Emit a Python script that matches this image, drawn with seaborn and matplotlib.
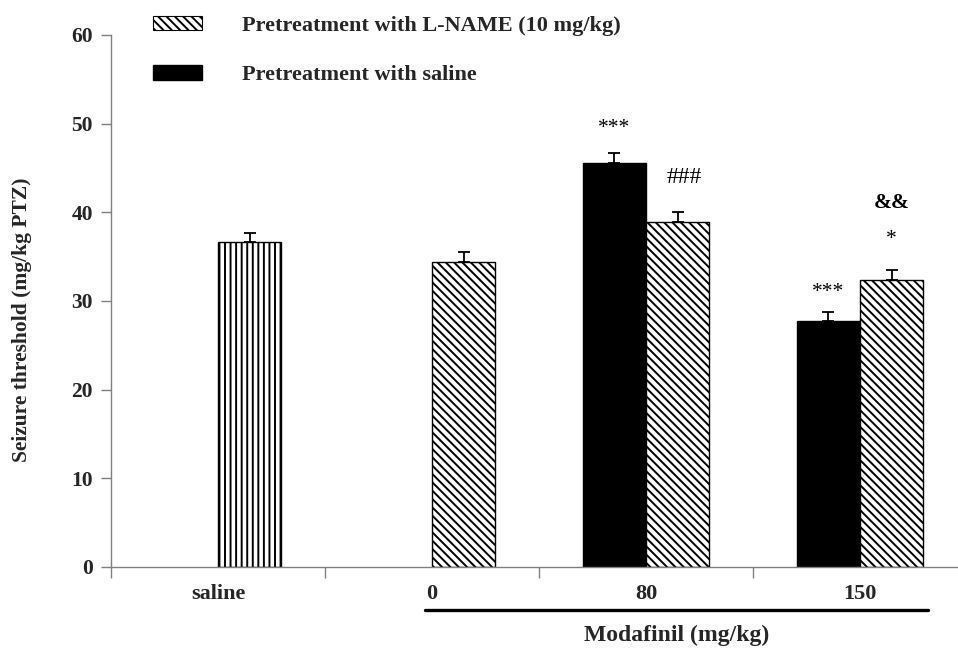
import matplotlib
matplotlib.use("Agg")
import matplotlib.pyplot as plt
import seaborn as sns
import pandas as pd
import numpy as np
from matplotlib.patches import Patch
from matplotlib.lines import Line2D

# ---- data ----
categories = ["saline", "0", "80", "150"]
bar_category = ["saline", "0", "80", "80", "150", "150"]
bar_group = ["L-NAME", "L-NAME", "Saline", "L-NAME", "Saline", "L-NAME"]
bar_value = [36.6, 34.4, 45.6, 38.9, 27.7, 32.4]
bar_sem = [1.1, 1.15, 1.1, 1.1, 1.1, 1.1]
hue_order = ["Saline", "L-NAME"]
legend_labels = ["Pretreatment with L-NAME (10 mg/kg)", "Pretreatment with saline"]
x_title = "Modafinil (mg/kg)"
y_title = "Seizure threshold (mg/kg PTZ)"
annotations = [("***", "80", "Saline", 49.4), ("###", "80", "L-NAME", 43.9),
               ("***", "150", "Saline", 31.0), ("*", "150", "L-NAME", 36.9),
               ("&&", "150", "L-NAME", 41.0)]

df = pd.DataFrame({"cat": bar_category, "group": bar_group, "value": bar_value, "sem": bar_sem})

sns.set_theme(style="white")
plt.rcParams["font.family"] = ["Liberation Serif", "DejaVu Serif"]
plt.rcParams["hatch.color"] = "black"
plt.rcParams["hatch.linewidth"] = 1.4

W, H = 958, 649
fig = plt.figure(figsize=(W / 100, H / 100), dpi=100)
ax_left, ax_right, ax_top, ax_bot = 111, 958, 35, 567
ax = fig.add_axes([ax_left / W, (H - ax_bot) / H, (ax_right - ax_left) / W, (ax_bot - ax_top) / H])

sns.barplot(data=df, x="cat", y="value", hue="group", order=categories, hue_order=hue_order,
            palette={"Saline": "black", "L-NAME": "white"}, width=0.59, gap=0,
            errorbar=None, edgecolor="black", linewidth=1.0, ax=ax, legend=False)

# hatches + error bars
for cont, grp in zip(ax.containers, hue_order):
    for bar in cont:
        if np.isnan(bar.get_height()) or bar.get_height() == 0:
            continue
        xc = bar.get_x() + bar.get_width() / 2
        cat = categories[int(round(xc))]
        if grp == "L-NAME":
            bar.set_hatch("|||" if cat == "saline" else "\\\\\\\\")
        row = df[(df["cat"] == cat) & (df["group"] == grp)].iloc[0]
        ax.errorbar([xc], [row["value"]], yerr=[[0], [row["sem"]]], fmt="none",
                    ecolor="black", elinewidth=1.3, capsize=4, capthick=1.3, zorder=3)

offs = {"Saline": -0.1475, "L-NAME": 0.1475}
sizes = {"***": 15.5, "###": 17, "*": 15.5, "&&": 15.5}
for txt, cat, grp, yv in annotations:
    xx = categories.index(cat) + offs[grp]
    if txt == "###":
        xx += 0.03
    ax.text(xx, yv, txt, ha="center", va="center", fontsize=sizes[txt],
            fontweight="bold" if txt == "&&" else "normal", color="black")

# axes styling
ax.set_ylim(0, 60)
ax.set_yticks(np.arange(0, 61, 10))
ax.set_xticks(range(len(categories)))
ax.set_xticklabels(categories, fontsize=16, fontweight="bold")
ax.set_xticks(np.arange(-0.5, 3.0, 1), minor=True)
ax.set_xlim(-0.5, 3.5 - 9 / 214)
ax.tick_params(axis="x", which="major", bottom=True, length=0, pad=12)
ax.tick_params(axis="x", which="minor", bottom=True, length=8, width=1, color="#808080", direction="out")
ax.tick_params(axis="y", left=True, length=7, width=1, color="#808080", direction="out", pad=6, labelsize=15.5)
for lab in ax.get_yticklabels():
    lab.set_fontweight("bold")
ax.set_xlabel("")
ax.set_ylabel(y_title, fontsize=15.5, fontweight="bold")
ax.yaxis.set_label_coords((32 - ax_left) / (ax_right - ax_left), (ax_bot - 320) / (ax_bot - ax_top))
for s in ["top", "right"]:
    ax.spines[s].set_visible(False)
for s in ["left", "bottom"]:
    ax.spines[s].set_color("#808080")
    ax.spines[s].set_linewidth(1)

# underline + group title
trans = ax.get_xaxis_transform()
ax.add_line(Line2D([0.967, 3.32], [-0.081, -0.081], transform=trans, color="black",
                   linewidth=2.4, clip_on=False))
ax.text(2.145, -0.128, x_title, transform=trans, ha="center", va="center",
        fontsize=17, fontweight="bold")

# legend
handles = [Patch(facecolor="white", edgecolor="black", hatch="\\\\\\\\", linewidth=0.8),
           Patch(facecolor="black", edgecolor="black")]
leg = fig.legend(handles, legend_labels, loc="upper left", bbox_to_anchor=(153 / W, 1 - 16 / H),
                 frameon=False, prop={"family": "Liberation Serif", "weight": "bold", "size": 16},
                 handlelength=2.2, handleheight=0.6, handletextpad=1.8, labelspacing=1.32,
                 borderaxespad=0, borderpad=0)

fig.savefig("out.png", dpi=100)
